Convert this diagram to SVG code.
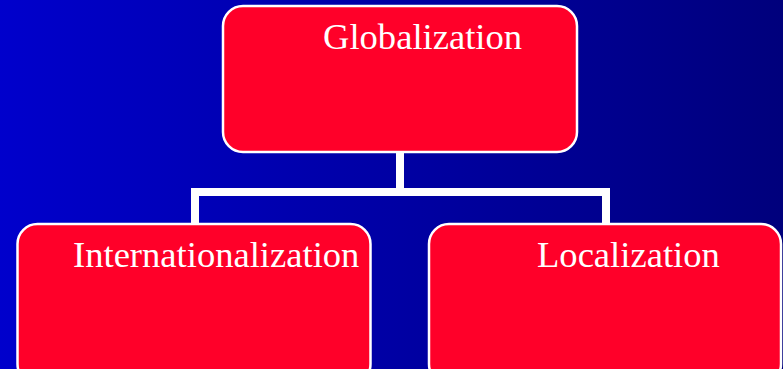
<svg xmlns="http://www.w3.org/2000/svg" width="783" height="369" viewBox="0 0 783 369">
<defs>
<linearGradient id="bg" x1="0" y1="0" x2="1" y2="0">
<stop offset="0" stop-color="#0000CC"/>
<stop offset="1" stop-color="#00007C"/>
</linearGradient>
<style>
.box{fill:#FF0029;stroke:#FFFFFF;stroke-width:2.5}
.lbl{font-family:"Liberation Serif","Times New Roman",serif;font-size:36.6px;fill:#FFFFFF}
.conn{fill:none;stroke:#FFFFFF;stroke-width:8}
</style>
</defs>
<rect x="0" y="0" width="783" height="369" fill="url(#bg)"/>
<g id="connectors">
<path class="conn" d="M400 152 V192 M195 224 V192 H606 V224"/>
</g>
<g id="globalization">
<rect class="box" x="223" y="6" width="354" height="146" rx="20"/>
<text class="lbl" x="323" y="49">Globalization</text>
</g>
<g id="internationalization">
<rect class="box" x="17.5" y="224" width="353" height="160" rx="20"/>
<text class="lbl" x="73" y="267">Internationalization</text>
</g>
<g id="localization">
<rect class="box" x="429" y="224" width="352" height="160" rx="20"/>
<text class="lbl" x="537" y="267">Localization</text>
</g>
</svg>
